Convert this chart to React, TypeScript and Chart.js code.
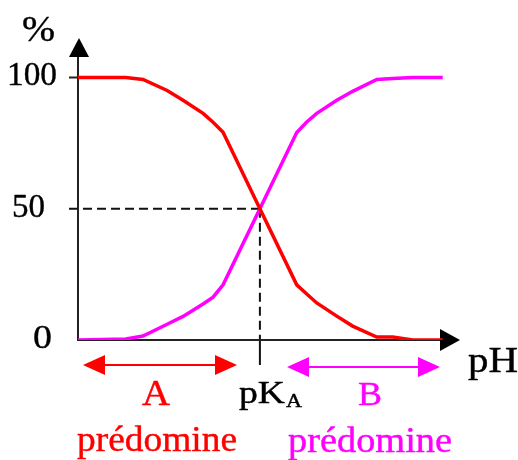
import React, { useEffect, useRef } from "react";
import { Chart, registerables } from "chart.js";

Chart.register(...registerables);

// x = pH - pKA
const phOffsets = [-4, -2.95, -2.57, -2.04, -1.69, -1.25, -1.03, -0.81, 0, 0.81, 1.03, 1.25, 1.69, 2.04, 2.57, 2.92, 3.36, 4.02];
const acidPercent = [100, 100, 99.2, 95, 91.3, 86.3, 82.9, 79.1, 50, 21, 17.5, 14.1, 9.1, 5.3, 1.1, 1.1, 0, 0];
const basePercent = [0, 0.4, 1.5, 6, 9, 13.7, 16.3, 21, 50, 79, 83, 86.3, 91.3, 94.7, 99.2, 99.6, 100, 100];
const yTicks = [0, 50, 100];
const yTickLabels = ["0", "50", "100"];

const RED = "#ff0000";
const MAGENTA = "#ff00ff";
const INK = "#111111";
const FONT = "'Liberation Serif', 'Times New Roman', serif";

function drawText(ctx: CanvasRenderingContext2D, text: string, left: number, baseline: number, size: number, width: number, color: string) {
  ctx.save();
  ctx.font = `${size}px ${FONT}`;
  ctx.fillStyle = color;
  ctx.strokeStyle = color;
  ctx.lineWidth = 0.4;
  ctx.lineJoin = "round";
  ctx.textAlign = "left";
  ctx.textBaseline = "alphabetic";
  const w = ctx.measureText(text).width;
  const sx = w > 0 ? width / w : 1;
  ctx.translate(left, baseline);
  ctx.scale(sx, 1);
  ctx.fillText(text, 0, 0);
  ctx.strokeText(text, 0, 0);
  ctx.restore();
}

function arrowHead(ctx: CanvasRenderingContext2D, tipX: number, tipY: number, dx: number, dy: number, len: number, half: number, color: string) {
  const bx = tipX - dx * len;
  const by = tipY - dy * len;
  const px = -dy;
  const py = dx;
  ctx.save();
  ctx.fillStyle = color;
  ctx.beginPath();
  ctx.moveTo(tipX, tipY);
  ctx.lineTo(bx + px * half, by + py * half);
  ctx.lineTo(bx - px * half, by - py * half);
  ctx.closePath();
  ctx.fill();
  ctx.restore();
}

const decorPlugin = {
  id: "decor",
  beforeDatasetsDraw(chart: any) {
    const ctx: CanvasRenderingContext2D = chart.ctx;
    const xs = chart.scales.x;
    const ys = chart.scales.y;
    const x0 = xs.left;
    const y0 = ys.getPixelForValue(0);
    const xK = xs.getPixelForValue(0);
    const y50 = ys.getPixelForValue(50);
    const y100 = ys.getPixelForValue(100);

    ctx.save();
    ctx.strokeStyle = INK;
    ctx.lineWidth = 2;
    ctx.setLineDash([9, 5]);
    ctx.beginPath();
    ctx.moveTo(x0 - 9, y50);
    ctx.lineTo(xK, y50);
    ctx.moveTo(xK, y50);
    ctx.lineTo(xK, y0);
    ctx.stroke();
    ctx.setLineDash([]);
    ctx.beginPath();
    ctx.moveTo(xK, y0);
    ctx.lineTo(xK, y0 + 25);
    ctx.stroke();

    ctx.strokeStyle = "#222222";
    ctx.lineWidth = 2;
    ctx.beginPath();
    ctx.moveTo(x0, y0 + 1);
    ctx.lineTo(x0, ys.top + 18);
    ctx.moveTo(x0, y0);
    ctx.lineTo(xs.right - 18, y0);
    ctx.moveTo(x0 - 9, y100);
    ctx.lineTo(x0, y100);
    ctx.stroke();
    arrowHead(ctx, x0 + 1, ys.top, 0, -1, 19, 10, "#000");
    arrowHead(ctx, xs.right, y0, 1, 0, 20, 11, "#000");
    ctx.restore();
  },
  afterDatasetsDraw(chart: any) {
    const ctx: CanvasRenderingContext2D = chart.ctx;
    const ys = chart.scales.y;
    const y0 = ys.getPixelForValue(0);

    const tickLeft = [33, 12, 7];
    const tickWidth = [19, 33, 50];
    yTicks.forEach((v, i) => {
      const py = ys.getPixelForValue(v);
      drawText(ctx, yTickLabels[i], tickLeft[i], py + 8, 34, tickWidth[i], "#000");
    });
    drawText(ctx, "%", 22, 41, 36, 33, "#000");
    drawText(ctx, "pH", 468, y0 + 32, 35, 50, "#000");

    ctx.save();
    ctx.lineWidth = 2;
    ctx.strokeStyle = RED;
    ctx.beginPath();
    ctx.moveTo(95, y0 + 25);
    ctx.lineTo(225, y0 + 25);
    ctx.stroke();
    ctx.restore();
    arrowHead(ctx, 83, y0 + 25, -1, 0, 22, 10, RED);
    arrowHead(ctx, 237, y0 + 25, 1, 0, 22, 10, RED);

    ctx.save();
    ctx.lineWidth = 2;
    ctx.strokeStyle = MAGENTA;
    ctx.beginPath();
    ctx.moveTo(300, y0 + 27);
    ctx.lineTo(428, y0 + 27);
    ctx.stroke();
    ctx.restore();
    arrowHead(ctx, 287, y0 + 27, -1, 0, 22, 10, MAGENTA);
    arrowHead(ctx, 440, y0 + 27, 1, 0, 22, 10, MAGENTA);

    drawText(ctx, "A", 142, y0 + 65, 36, 28, RED);
    drawText(ctx, "pK", 239, y0 + 63, 31, 46, "#000");
    drawText(ctx, "A", 286, y0 + 67, 19, 16, "#000");
    drawText(ctx, "B", 358, y0 + 65, 34, 24, MAGENTA);
    drawText(ctx, "prédomine", 77, y0 + 111, 35, 160, RED);
    drawText(ctx, "prédomine", 288, y0 + 112, 35, 164, MAGENTA);
  },
};

export default function App() {
  const ref = useRef<HTMLCanvasElement | null>(null);
  useEffect(() => {
    if (!ref.current) return;
    const chart = new Chart(ref.current, {
      type: "line",
      data: {
        datasets: [
          {
            label: "A",
            data: phOffsets.map((x, i) => ({ x, y: acidPercent[i] })),
            borderColor: RED,
            borderWidth: 3.5,
            pointRadius: 0,
            tension: 0,
            fill: false,
          },
          {
            label: "B",
            data: phOffsets.map((x, i) => ({ x, y: basePercent[i] })),
            borderColor: MAGENTA,
            borderWidth: 3.5,
            pointRadius: 0,
            tension: 0,
            fill: false,
          },
        ],
      },
      options: {
        animation: false,
        responsive: false,
        maintainAspectRatio: false,
        layout: { padding: { left: 78, right: 58, top: 38, bottom: 120 } },
        plugins: { legend: { display: false }, tooltip: { enabled: false } },
        scales: {
          x: { type: "linear", min: -4, max: 4.4, display: false },
          y: { type: "linear", min: 0, max: 115, display: false },
        },
      },
      plugins: [decorPlugin],
    });
    return () => chart.destroy();
  }, []);
  return (
    <div style={{ position: "absolute", left: 0, top: 0, width: 518, height: 460, background: "#fff" }}>
      <canvas ref={ref} width={518} height={460} style={{ display: "block", width: 518, height: 460 }} />
    </div>
  );
}
